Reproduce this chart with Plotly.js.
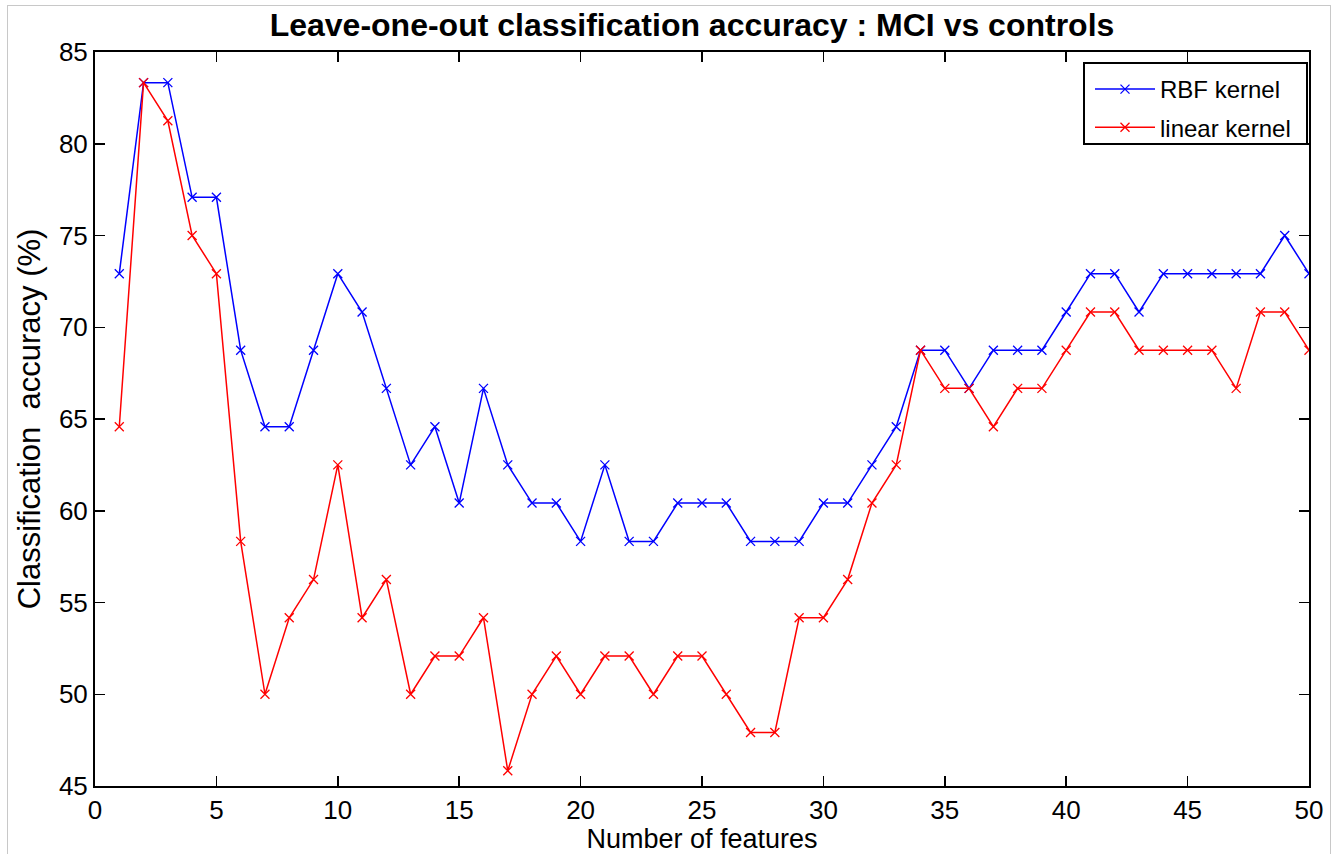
<!DOCTYPE html>
<html>
<head>
<meta charset="utf-8">
<script src="https://cdn.plot.ly/plotly-3.0.1.min.js"></script>
<style>
  html, body { margin: 0; padding: 0; background: #ffffff; }
  #chart { width: 1344px; height: 854px; }
  #frame { position: absolute; left: 7px; top: 5px; width: 1322px; height: 860px;
           border: 1px solid #c8c8c8; pointer-events: none; }
</style>
</head>
<body>
<div id="chart"></div>
<div id="frame"></div>
<script>
// Number of features
const features = Array.from({length: 50}, (_, i) => i + 1);

// Leave-one-out accuracy (%), RBF kernel
const rbfAccuracy = [
  72.92, 83.33, 83.33, 77.08, 77.08, 68.75, 64.58, 64.58, 68.75, 72.92,
  70.83, 66.67, 62.50, 64.58, 60.42, 66.67, 62.50, 60.42, 60.42, 58.33,
  62.50, 58.33, 58.33, 60.42, 60.42, 60.42, 58.33, 58.33, 58.33, 60.42,
  60.42, 62.50, 64.58, 68.75, 68.75, 66.67, 68.75, 68.75, 68.75, 70.83,
  72.92, 72.92, 70.83, 72.92, 72.92, 72.92, 72.92, 72.92, 75.00, 72.92
];

// Leave-one-out accuracy (%), linear kernel
const linearAccuracy = [
  64.58, 83.33, 81.25, 75.00, 72.92, 58.33, 50.00, 54.17, 56.25, 62.50,
  54.17, 56.25, 50.00, 52.08, 52.08, 54.17, 45.83, 50.00, 52.08, 50.00,
  52.08, 52.08, 50.00, 52.08, 52.08, 50.00, 47.92, 47.92, 54.17, 54.17,
  56.25, 60.42, 62.50, 68.75, 66.67, 66.67, 64.58, 66.67, 66.67, 68.75,
  70.83, 70.83, 68.75, 68.75, 68.75, 68.75, 66.67, 70.83, 70.83, 68.75
];

const seriesNames = ["RBF kernel", "linear kernel"];
const xTicks = [0, 5, 10, 15, 20, 25, 30, 35, 40, 45, 50];
const yTicks = [45, 50, 55, 60, 65, 70, 75, 80, 85];

const FONT = "Liberation Sans, Arial, Helvetica, sans-serif";

// plot-area geometry (pixels) used to place legend box in paper coordinates
const PL = 95, PR = 1309, PT = 52, PB = 786;
const px2x = p => (p - PL) / (PR - PL);
const px2y = p => (PB - p) / (PB - PT);

const traces = [
  {
    x: features, y: rbfAccuracy, name: seriesNames[0], legendgroup: "a",
    type: "scatter", mode: "lines+markers",
    line: {color: "#0000ff", width: 1.5},
    marker: {symbol: "x-thin-open", size: 9, color: "#0000ff", line: {color: "#0000ff", width: 1.3}}
  },
  {
    x: features, y: linearAccuracy, name: seriesNames[1], legendgroup: "b",
    type: "scatter", mode: "lines+markers",
    line: {color: "#ff0000", width: 1.5},
    marker: {symbol: "x-thin-open", size: 9, color: "#ff0000", line: {color: "#ff0000", width: 1.3}}
  }
];

const axisCommon = {
  showgrid: false, zeroline: false,
  showline: true, linecolor: "#000000", linewidth: 2, mirror: "ticks",
  ticks: "inside", ticklen: 10, tickwidth: 1.5, tickcolor: "#000000",
  tickfont: {family: FONT, size: 26, color: "#000000"}
};

const layout = {
  width: 1344, height: 854,
  margin: {l: PL, r: 1344 - PR, t: PT, b: 854 - PB},
  paper_bgcolor: "#ffffff", plot_bgcolor: "#ffffff",
  font: {family: FONT, color: "#000000"},
  title: {
    text: "<b>Leave-one-out classification accuracy : MCI vs controls</b>",
    font: {family: FONT, size: 32, color: "#000000"},
    xref: "container", x: 692 / 1344, xanchor: "center",
    yref: "container", y: 1 - 25 / 854, yanchor: "middle"
  },
  xaxis: Object.assign({}, axisCommon, {
    range: [0, 50], tickvals: xTicks, ticktext: xTicks.map(String),
    title: {text: "Number of features", font: {family: FONT, size: 27, color: "#000000"}, standoff: 9}
  }),
  yaxis: Object.assign({}, axisCommon, {
    range: [45, 85], tickvals: yTicks, ticktext: yTicks.map(String),
    title: {text: "Classification  accuracy (%)", font: {family: FONT, size: 31, color: "#000000"}, standoff: 9}
  }),
  shapes: [{
    type: "rect", xref: "paper", yref: "paper", layer: "above",
    x0: px2x(1084), x1: px2x(1307), y0: px2y(144), y1: px2y(63),
    line: {color: "#000000", width: 2}, fillcolor: "rgba(0,0,0,0)"
  }],
  showlegend: true,
  legend: {
    x: px2x(1090), xanchor: "left",
    y: px2y(67), yanchor: "top",
    bgcolor: "rgba(255,255,255,0)", borderwidth: 0,
    font: {family: FONT, size: 24, color: "#000000"},
    itemwidth: 60, tracegroupgap: 4
  }
};

Plotly.newPlot("chart", traces, layout, {displayModeBar: false, staticPlot: true});
</script>
</body>
</html>
